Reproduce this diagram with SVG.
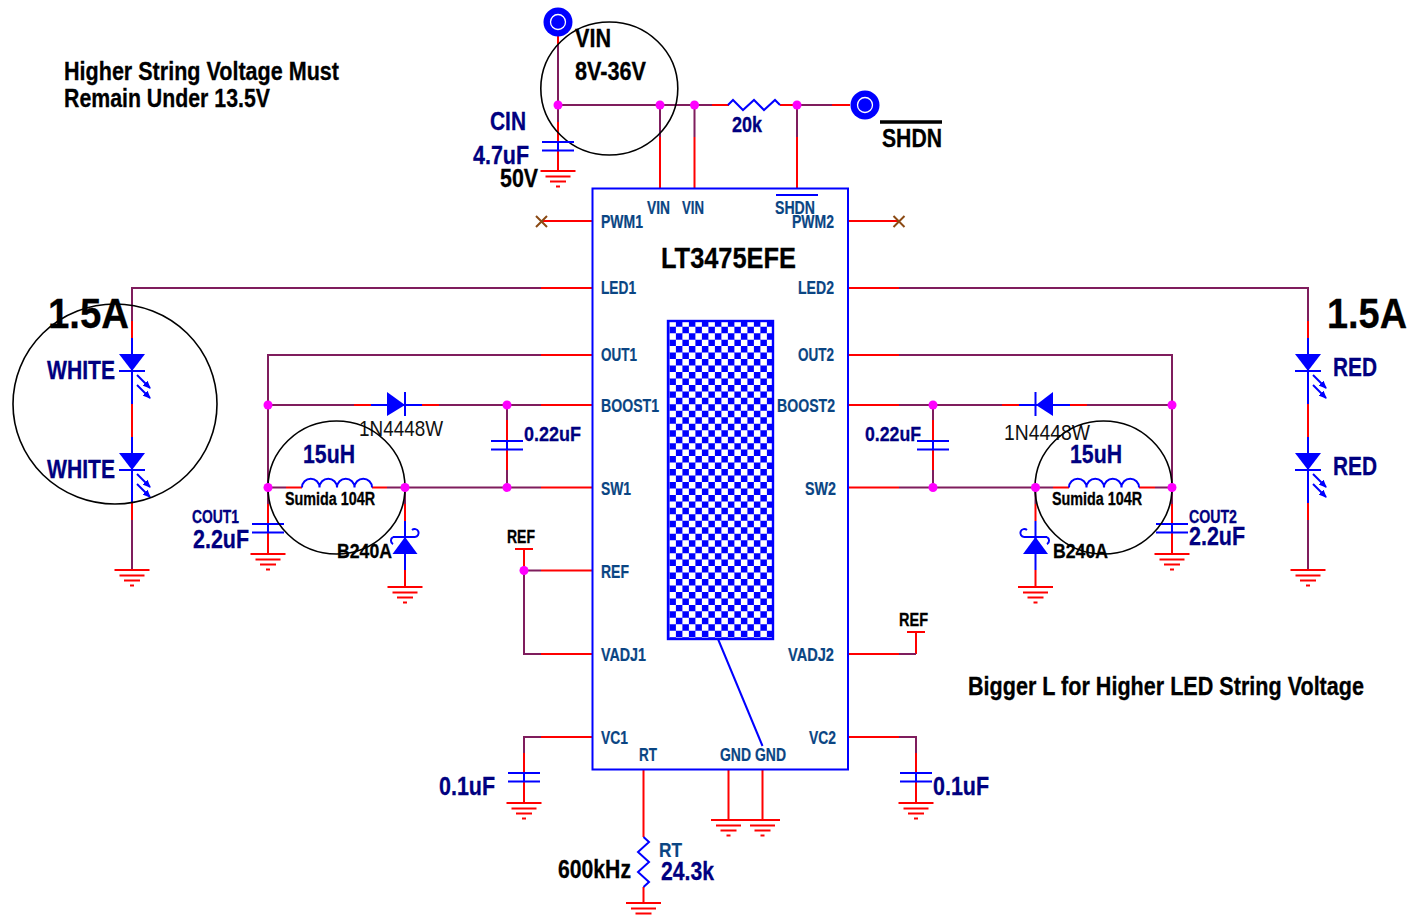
<svg xmlns="http://www.w3.org/2000/svg" width="1422" height="917" viewBox="0 0 1422 917">
<style>
text{font-family:"Liberation Sans",Arial,sans-serif;font-weight:700}
.k{fill:#000;stroke:#000;stroke-width:.3}.n{fill:#000080;stroke:#000080;stroke-width:.3}.p{fill:#0a4583;stroke:#0a4583;stroke-width:.2}.g{fill:#111;font-weight:400}
.r,.m,.b,.o,.x{fill:none;stroke-width:2}
.r{stroke:#ff0000}.m{stroke:#7f1d5d}.b{stroke:#0000ff}.x{stroke:#8b4a14}
.o{stroke:#000;stroke-width:1.6}
.f{fill:#0000ff;stroke:none}
.d{fill:#ff00ff;stroke:none}
.t1{font-size:25.500px}.t2{font-size:17.500px}.t3{font-size:43px}.t4{font-size:21px}.t5{font-size:30px}
</style>
<defs>
<marker id="ah" markerWidth="8" markerHeight="7" refX="7" refY="3.5" orient="auto" markerUnits="userSpaceOnUse"><path d="M0,0L8,3.5L0,7Z" fill="#0000ff"/></marker>
<clipPath id="chkclip"><rect x="669" y="322" width="103" height="316"/></clipPath>
<g id="gnd"><path class="r" d="M-17.5,0H17.5M-12.5,5.5H12.5M-8,10.5H8M-2,15.5H2"/></g>
<g id="term"><circle r="14.5" fill="#0000ff"/><circle r="7.5" fill="#0000ff" stroke="#fff" stroke-width="1.3"/></g>
<g id="cap"><path class="b" d="M-16,0H16M-16,8.5H16M0,0V8.5"/></g>
<g id="led"><path class="f" d="M-13,-17H13L0,0Z"/><path class="b" d="M-13,0H13M0,-33V33"/>
<path class="b" stroke-width="1.6" marker-end="url(#ah)" d="M5,4L18,17"/><path class="b" stroke-width="1.6" marker-end="url(#ah)" d="M5,14L18,27"/></g>
<g id="ind"><path class="b" d="M0,0a8.75,8.75 0 0 1 17.5,0a8.75,8.75 0 0 1 17.5,0a8.75,8.75 0 0 1 17.5,0a8.75,8.75 0 0 1 17.5,0"/></g>
<path id="cells-a" d="M0,0h116m-116,12.94h116m-116,12.94h116m-116,12.94h116m-116,12.94h116m-116,12.94h116m-116,12.94h116m-116,12.94h116m-116,12.94h116m-116,12.94h116m-116,12.94h116m-116,12.94h116m-116,12.94h116m-116,12.94h116m-116,12.94h116m-116,12.94h116m-116,12.94h116m-116,12.94h116m-116,12.94h116m-116,12.94h116m-116,12.94h116m-116,12.94h116m-116,12.94h116m-116,12.94h116m-116,12.94h116" fill="none" stroke="#fff" stroke-width="6.47" stroke-dasharray="6.5 6.5"/>
</defs>

<g id="connectors">
<path class="r" d="M558,36V44M558,122V142M558,150V171M712,105H729M780,105H832V105H850M660,137V188M694.5,137V188M797,137V188M541,221H592M848,221H899M541,288H592M848,288H899M132,321V338M132,404V437M132,503V520M1308,321V338M1308,404V437M1308,503V520M541,355H592M848,355H899M268,504V524M268,532V554M1172,504V524M1172,532V554M541,405H592M354,405H371M422,405H439M848,405H899M1002,405H1019M1070,405H1087M507,420V441M507,449V470M933,420V441M933,449V470M541,487.5H592M286,487.5H302M372,487.5H387M848,487.5H899M1053,487.5H1069M1139,487.5H1155M405,504V521M405,570V587M1035.5,504V521M1035.5,570V587M524,549V570M541,570.5H592M541,654H592M848,654H899M916,654V632M848,737H899M541,737H592M524,753V773M524,782V803M916,753V773M916,782V803M643.5,770V837M643.5,887V903M728.5,770V820M762.5,770V820"/>
<path class="m" d="M558,44V122M558,105H712M797,105H832M660,105V137M694.5,105V137M797,105V137M132,321V288H541M899,288H1308V321M132,520V570M1308,520V570M541,355H268V504M899,355H1172V504M268,405H354M439,405H541M899,405H1002M1087,405H1172M507,405V420M507,470V487.5M933,405V420M933,470V487.5M268,487.5H286M387,487.5H541M899,487.5H1053M1155,487.5H1172M405,487.5V504M1035.5,487.5V504M524,570.5H541M524,570.5V654H541M899,654H916M541,737H524V753M899,737H916V753"/>
<path class="b" d="M718,639L762.5,746"/>
</g>

<g id="chip">
<rect x="592.5" y="188.5" width="255.5" height="581" fill="none" stroke="#0000ff" stroke-width="2"/>
<rect x="668" y="321" width="105" height="318" fill="#0000ff"/>
<g clip-path="url(#chkclip)">
<use href="#cells-a" x="669.4" y="323.45"/>
<use href="#cells-a" x="662.9" y="329.92"/>
</g>
<rect x="668" y="321" width="105" height="318" fill="none" stroke="#0000ff" stroke-width="2.4"/>
<path class="b" stroke-width="1.5" d="M776,195H818"/>
<text class="k t5" x="661" y="267.500" textLength="135" lengthAdjust="spacingAndGlyphs">LT3475EFE</text>
<text class="p t2" x="647" y="213.500" textLength="23" lengthAdjust="spacingAndGlyphs">VIN</text>
<text class="p t2" x="682" y="213.500" textLength="22" lengthAdjust="spacingAndGlyphs">VIN</text>
<text class="p t2" x="775" y="213.500" textLength="40" lengthAdjust="spacingAndGlyphs">SHDN</text>
<text class="p t2" x="601" y="228" textLength="42" lengthAdjust="spacingAndGlyphs">PWM1</text>
<text class="p t2" x="792" y="228" textLength="42" lengthAdjust="spacingAndGlyphs">PWM2</text>
<text class="p t2" x="601" y="294" textLength="35" lengthAdjust="spacingAndGlyphs">LED1</text>
<text class="p t2" x="798" y="294" textLength="36" lengthAdjust="spacingAndGlyphs">LED2</text>
<text class="p t2" x="601" y="361" textLength="36" lengthAdjust="spacingAndGlyphs">OUT1</text>
<text class="p t2" x="798" y="361" textLength="36" lengthAdjust="spacingAndGlyphs">OUT2</text>
<text class="p t2" x="601" y="411.500" textLength="58" lengthAdjust="spacingAndGlyphs">BOOST1</text>
<text class="p t2" x="777" y="411.500" textLength="58" lengthAdjust="spacingAndGlyphs">BOOST2</text>
<text class="p t2" x="601" y="494.500" textLength="30" lengthAdjust="spacingAndGlyphs">SW1</text>
<text class="p t2" x="805" y="494.500" textLength="31" lengthAdjust="spacingAndGlyphs">SW2</text>
<text class="p t2" x="601" y="577.500" textLength="28" lengthAdjust="spacingAndGlyphs">REF</text>
<text class="p t2" x="601" y="660.500" textLength="45" lengthAdjust="spacingAndGlyphs">VADJ1</text>
<text class="p t2" x="788" y="660.500" textLength="46" lengthAdjust="spacingAndGlyphs">VADJ2</text>
<text class="p t2" x="601" y="743.500" textLength="27" lengthAdjust="spacingAndGlyphs">VC1</text>
<text class="p t2" x="809" y="743.500" textLength="27" lengthAdjust="spacingAndGlyphs">VC2</text>
<text class="p t2" x="639" y="760.500" textLength="18" lengthAdjust="spacingAndGlyphs">RT</text>
<text class="p t2" x="720" y="760.500" textLength="31" lengthAdjust="spacingAndGlyphs">GND</text>
<text class="p t2" x="755" y="760.500" textLength="31" lengthAdjust="spacingAndGlyphs">GND</text>
</g>

<g id="notes">
<text class="k t1" x="64" y="80" textLength="275" lengthAdjust="spacingAndGlyphs">Higher String Voltage Must</text>
<text class="k t1" x="64" y="107" textLength="206" lengthAdjust="spacingAndGlyphs">Remain Under 13.5V</text>
<text class="k t1" x="968" y="695" textLength="396" lengthAdjust="spacingAndGlyphs">Bigger L for Higher LED String Voltage</text>
</g>

<g id="vin-in">
<use href="#term" x="558" y="22"/>
<ellipse class="o" cx="609.3" cy="88.5" rx="68.5" ry="66.5"/>
<text class="k t1" x="575" y="46.500" textLength="36" lengthAdjust="spacingAndGlyphs">VIN</text>
<text class="k t1" x="575" y="80" textLength="71" lengthAdjust="spacingAndGlyphs">8V-36V</text>
</g>
<g id="cin">
<use href="#cap" x="558" y="142"/><use href="#gnd" x="558" y="171"/>
<text class="n t1" x="490" y="130" textLength="36" lengthAdjust="spacingAndGlyphs">CIN</text>
<text class="n t1" x="473" y="164" textLength="56" lengthAdjust="spacingAndGlyphs">4.7uF</text>
<text class="k t1" x="500" y="187" textLength="38" lengthAdjust="spacingAndGlyphs">50V</text>
</g>
<g id="r20k">
<path class="b" d="M728,105L733,100L743,110L754,100L764,110L775,100L780,105"/>
<text class="n" font-size="22" x="732" y="132" textLength="30" lengthAdjust="spacingAndGlyphs">20k</text>
</g>
<g id="shdn">
<use href="#term" x="865" y="105"/>
<path d="M880,122H942" stroke="#000" stroke-width="3.5" fill="none"/>
<text class="k t1" x="882" y="147" textLength="60" lengthAdjust="spacingAndGlyphs">SHDN</text>
</g>
<g id="nc1"><path class="x" d="M536,216L547,227M547,216L536,227"/></g>
<g id="nc2"><path class="x" d="M893.500,216L904.500,227M904.500,216L893.500,227"/></g>

<g id="string-left">
<use href="#led" x="132" y="371"/><use href="#led" x="132" y="470"/>
<use href="#gnd" x="132" y="570"/>
<ellipse class="o" cx="115" cy="404" rx="102" ry="100"/>
<text class="k t3" x="48" y="328" textLength="81" lengthAdjust="spacingAndGlyphs">1.5A</text>
<text class="n t1" x="47" y="379" textLength="68" lengthAdjust="spacingAndGlyphs">WHITE</text>
<text class="n t1" x="47" y="478" textLength="68" lengthAdjust="spacingAndGlyphs">WHITE</text>
</g>
<g id="string-right">
<use href="#led" x="1308" y="371"/><use href="#led" x="1308" y="470"/>
<use href="#gnd" x="1308" y="570"/>
<text class="k t3" x="1327" y="328" textLength="80" lengthAdjust="spacingAndGlyphs">1.5A</text>
<text class="n t1" x="1333" y="375.500" textLength="44" lengthAdjust="spacingAndGlyphs">RED</text>
<text class="n t1" x="1333" y="475" textLength="44" lengthAdjust="spacingAndGlyphs">RED</text>
</g>

<g id="cout1">
<use href="#cap" x="268" y="524"/><use href="#gnd" x="268" y="554"/>
<text class="n t2" x="192" y="522.500" textLength="47" lengthAdjust="spacingAndGlyphs">COUT1</text>
<text class="n t1" x="193" y="548" textLength="56" lengthAdjust="spacingAndGlyphs">2.2uF</text>
</g>
<g id="d1">
<path class="f" d="M387,392V416L405,405Z"/><path class="b" d="M371,405H422M405,392V416"/>
<text class="g" font-size="22" x="359" y="436" textLength="84" lengthAdjust="spacingAndGlyphs">1N4448W</text>
</g>
<g id="cb1">
<use href="#cap" x="507" y="441"/>
<text class="n t4" x="524" y="441" textLength="57" lengthAdjust="spacingAndGlyphs">0.22uF</text>
</g>
<g id="l1">
<use href="#ind" x="302" y="487.5"/>
<ellipse class="o" cx="336.500" cy="487.5" rx="68.500" ry="66.5"/>
<text class="n t1" x="303" y="463" textLength="52" lengthAdjust="spacingAndGlyphs">15uH</text>
<text class="k t2" x="285" y="504.500" textLength="90" lengthAdjust="spacingAndGlyphs">Sumida 104R</text>
</g>
<g id="d2">
<path class="f" d="M392.500,554H417.500L405,537Z"/>
<path class="b" d="M405,521V570M393,537H415"/>
<path class="b" d="M415,537a4,4 0 1 0 -3,-7M393,537a4,4 0 0 0 0,7"/>
<use href="#gnd" x="405" y="587"/>
<text class="k t4" x="337" y="558" textLength="55" lengthAdjust="spacingAndGlyphs">B240A</text>
</g>
<g id="ref1">
<path class="r" d="M515,549H533"/>
<text class="k t2" x="507" y="543" textLength="28" lengthAdjust="spacingAndGlyphs">REF</text>
</g>
<g id="c-vc1">
<use href="#cap" x="524" y="773"/><use href="#gnd" x="524" y="803"/>
<text class="n t1" x="439" y="795" textLength="56" lengthAdjust="spacingAndGlyphs">0.1uF</text>
</g>

<g id="cout2">
<use href="#cap" x="1172" y="524"/><use href="#gnd" x="1172" y="554"/>
<text class="n t2" x="1189" y="522.500" textLength="48" lengthAdjust="spacingAndGlyphs">COUT2</text>
<text class="n t1" x="1189" y="545" textLength="56" lengthAdjust="spacingAndGlyphs">2.2uF</text>
</g>
<g id="d3">
<path class="f" d="M1053,392V416L1036,405Z"/><path class="b" d="M1019,405H1070M1035.500,392V416"/>
<text class="g" font-size="22" x="1004" y="440" textLength="86" lengthAdjust="spacingAndGlyphs">1N4448W</text>
</g>
<g id="cb2">
<use href="#cap" x="933" y="441"/>
<text class="n t4" x="865" y="441" textLength="56" lengthAdjust="spacingAndGlyphs">0.22uF</text>
</g>
<g id="l2">
<use href="#ind" x="1069" y="487.5"/>
<ellipse class="o" cx="1103.500" cy="487.5" rx="68.500" ry="66.5"/>
<text class="n t1" x="1070" y="463" textLength="52" lengthAdjust="spacingAndGlyphs">15uH</text>
<text class="k t2" x="1052" y="504.500" textLength="90" lengthAdjust="spacingAndGlyphs">Sumida 104R</text>
</g>
<g id="d4">
<path class="f" d="M1023,554H1048L1035.500,537Z"/>
<path class="b" d="M1035.500,521V570M1024,537H1047"/>
<path class="b" d="M1024,537a4,4 0 1 1 3,-7M1047,537a4,4 0 0 1 0,7"/>
<use href="#gnd" x="1035.500" y="587"/>
<text class="k t4" x="1053" y="558" textLength="55" lengthAdjust="spacingAndGlyphs">B240A</text>
</g>
<g id="ref2">
<path class="r" d="M907,632H925"/>
<text class="k t2" x="899" y="626" textLength="29" lengthAdjust="spacingAndGlyphs">REF</text>
</g>
<g id="c-vc2">
<use href="#cap" x="916" y="773"/><use href="#gnd" x="916" y="803"/>
<text class="n t1" x="933" y="795" textLength="56" lengthAdjust="spacingAndGlyphs">0.1uF</text>
</g>

<g id="rt">
<path class="b" d="M643.500,837L649,842L638,852L649,862L638,872L649,882L643.500,887"/>
<use href="#gnd" x="643.500" y="903"/>
<text class="p" font-size="20" x="659" y="856.500" textLength="23" lengthAdjust="spacingAndGlyphs">RT</text>
<text class="n t1" x="661" y="880" textLength="53" lengthAdjust="spacingAndGlyphs">24.3k</text>
<text class="k t1" x="558" y="878" textLength="73" lengthAdjust="spacingAndGlyphs">600kHz</text>
</g>
<g id="gnd1"><use href="#gnd" x="728.500" y="820"/></g>
<g id="gnd2"><use href="#gnd" x="762.500" y="820"/></g>

<g id="junctions">
<circle class="d" cx="558" cy="105" r="4.500"/><circle class="d" cx="660" cy="105" r="4.500"/><circle class="d" cx="694.500" cy="105" r="4.500"/><circle class="d" cx="797" cy="105" r="4.500"/>
<circle class="d" cx="268" cy="405" r="4.500"/><circle class="d" cx="507" cy="405" r="4.500"/><circle class="d" cx="268" cy="487.5" r="4.500"/><circle class="d" cx="405" cy="487.5" r="4.500"/><circle class="d" cx="507" cy="487.5" r="4.500"/>
<circle class="d" cx="524" cy="570.5" r="4.500"/>
<circle class="d" cx="933" cy="405" r="4.500"/><circle class="d" cx="1172" cy="405" r="4.500"/><circle class="d" cx="933" cy="487.5" r="4.500"/><circle class="d" cx="1035.500" cy="487.5" r="4.500"/><circle class="d" cx="1172" cy="487.5" r="4.500"/>
</g>
</svg>
